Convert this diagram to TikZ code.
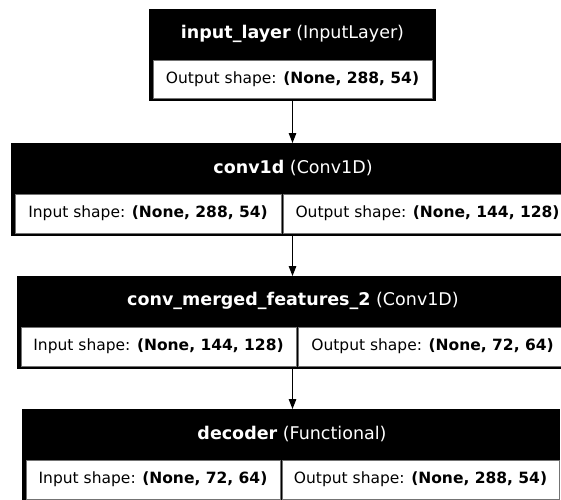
\documentclass[tikz,border=0pt]{standalone}
\usepackage{fontspec}
\setmainfont{DejaVu Sans}
\usetikzlibrary{arrows.meta}
\begin{document}
\begin{tikzpicture}[x=1pt,y=-1pt,
  outerbox/.style={fill=black, draw=none, inner sep=0pt, outer sep=0pt, anchor=north west, minimum height=93pt},
  cellbox/.style={fill=white, draw=black!55, line width=0.4pt, inner sep=0pt, outer sep=0pt, anchor=north west, minimum height=39pt, font=\fontsize{15.5}{18}\selectfont, text=black},
  titletext/.style={text=white, inner sep=0pt, font=\fontsize{17.5}{20}\selectfont},
  conn/.style={line width=1.3pt, -{Triangle[length=10pt,width=7.5pt]}}
]
\useasboundingbox (0,0) rectangle (561,499);
\clip (0,0) rectangle (561,499);

% input_layer
\node[outerbox, minimum width=287pt, minimum height=92pt] (b1) at (149,9) {};
\node[titletext] (t1) at (292.5,34) {\textbf{input\_layer} (InputLayer)};
\node[cellbox, minimum width=279pt, minimum height=38pt] (c1) at (153,60) {Output shape: \textbf{(None, 288, 54)}};

% conv1d
\node[outerbox, minimum width=565pt] (b2) at (11,143) {};
\node[titletext] (t2) at (293,168) {\textbf{conv1d} (Conv1D)};
\node[cellbox, minimum width=266pt] (c2a) at (15,194) {Input shape: \textbf{(None, 288, 54)}};
\node[cellbox, minimum width=289pt] (c2b) at (283,194) {Output shape: \textbf{(None, 144, 128)}};

% conv_merged_features_2
\node[outerbox, minimum width=554pt] (b3) at (17,276) {};
\node[titletext] (t3) at (293,301) {\textbf{conv\_merged\_features\_2} (Conv1D)};
\node[cellbox, minimum width=275pt] (c3a) at (21,327) {Input shape: \textbf{(None, 144, 128)}};
\node[cellbox, minimum width=269pt] (c3b) at (298,327) {Output shape: \textbf{(None, 72, 64)}};

% decoder
\node[outerbox, minimum width=538pt] (b4) at (22,409) {};
\node[titletext] (t4) at (292,434) {\textbf{decoder} (Functional)};
\node[cellbox, minimum width=254pt] (c4a) at (26,460) {Input shape: \textbf{(None, 72, 64)}};
\node[cellbox, minimum width=277pt] (c4b) at (282,460) {Output shape: \textbf{(None, 288, 54)}};

% connectors
\draw[conn] (b1.south -| t1.south) -- (t1.south |- b2.north);
\draw[conn] (b2.south -| t1.south) -- (t1.south |- b3.north);
\draw[conn] (b3.south -| t1.south) -- (t1.south |- b4.north);
\end{tikzpicture}
\end{document}
